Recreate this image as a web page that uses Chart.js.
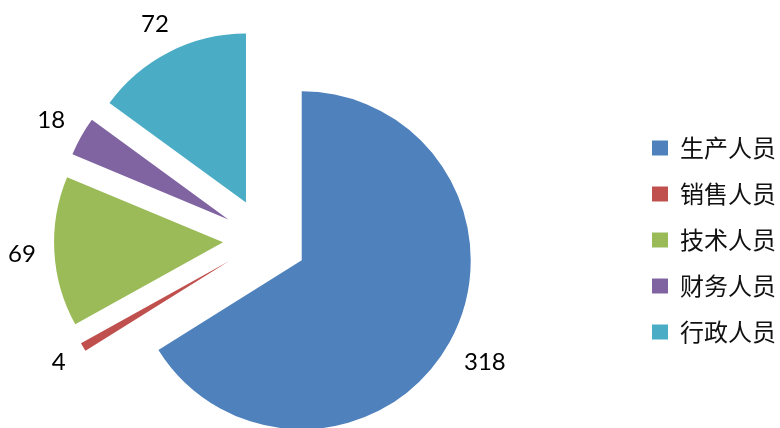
<!DOCTYPE html>
<html><head><meta charset="utf-8">
<script src="https://cdn.jsdelivr.net/npm/chart.js@4.4.0/dist/chart.umd.min.js"></script>
<style>html,body{margin:0;padding:0;background:#fff;overflow:hidden;} #wrap{width:780px;height:428px;overflow:hidden;position:relative;} #c{position:absolute;left:-114px;top:0;}</style>
</head><body><div id="wrap"><canvas id="c" width="900" height="428"></canvas></div>
<script>
const categories = ['生产人员', '销售人员', '技术人员', '财务人员', '行政人员'];
const values = [318, 4, 69, 18, 72];
const colors = ['#4F81BD', '#C0504D', '#9BBB59', '#8064A2', '#4BACC6'];

const EXPLODE = 42;

const explodePlugin = {
  id: 'explode',
  afterDatasetUpdate(chart, args) {
    args.meta.data.forEach(arc => {
      const mid = (arc.startAngle + arc.endAngle) / 2;
      arc.x += Math.cos(mid) * EXPLODE;
      arc.y += Math.sin(mid) * EXPLODE;
    });
  }
};

const labelPlugin = {
  id: 'sliceLabels',
  afterDatasetsDraw(chart) {
    const ctx = chart.ctx;
    const meta = chart.getDatasetMeta(0);
    const data = chart.data.datasets[0].data;
    ctx.save();
    ctx.font = '24px Lato';
    ctx.fillStyle = '#000';
    ctx.textAlign = 'center';
    ctx.textBaseline = 'alphabetic';
    const h = 17;
    meta.data.forEach((arc, i) => {
      const mid = (arc.startAngle + arc.endAngle) / 2;
      const txt = String(data[i]);
      const w = ctx.measureText(txt).width;
      const dx = Math.cos(mid), dy = Math.sin(mid);
      const ext = Math.abs(dx) * w / 2 + Math.abs(dy) * h / 2;
      const d = arc.outerRadius + 18 + ext;
      ctx.fillText(txt, arc.x + dx * d, arc.y + dy * d + h / 2);
    });
    ctx.restore();
  }
};

new Chart(document.getElementById('c'), {
  type: 'pie',
  data: {
    labels: categories,
    datasets: [{
      data: values,
      backgroundColor: colors,
      borderWidth: 0,
      radius: 169,
      clip: false
    }]
  },
  options: {
    responsive: false,
    animation: false,
    layout: { padding: { left: 14, right: 0, top: 52, bottom: 0 } },
    plugins: {
      legend: {
        position: 'right',
        labels: {
          boxWidth: 16,
          boxHeight: 15,
          padding: 22,
          color: '#111',
          font: { family: '"Noto Sans CJK SC"', size: 24 }
        }
      },
      tooltip: { enabled: false }
    }
  },
  plugins: [explodePlugin, labelPlugin]
});
</script>
</body></html>
